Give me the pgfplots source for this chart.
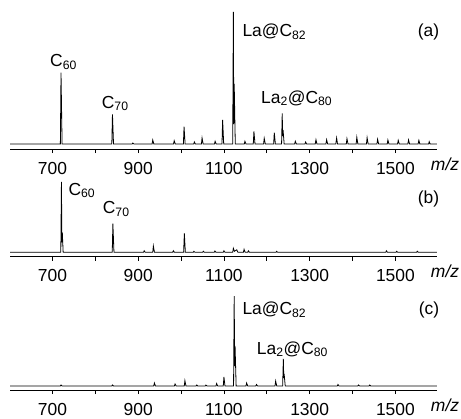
\documentclass[border=0pt]{standalone}
\usepackage{pgfplots}
\pgfplotsset{compat=1.18}
\usepackage{fontspec}
\setmainfont{Liberation Sans}

% peak heights are in pixel units above the baseline
\pgfplotsset{
  ms/.style={
    scale only axis,
    x=0.4287bp, y=1bp,
    xmin=601, xmax=1597,
    axis x line*=bottom,
    hide y axis,
    clip=false,
    axis line style={line width=1bp},
    xtick={700,800,...,1500},
    xticklabels={700,,900,,1100,,1300,,1500},
    tick align=outside,
    major tick length=4bp,
    xtick style={line width=0.8bp,black},
    xticklabel style={anchor=base, yshift=-21bp, font=\fontsize{17.5}{21}\selectfont},
  },
  spec/.style={black, line width=0.8bp, mark=none},
}
\tikzset{lab/.style={font=\fontsize{17.5}{21}\selectfont, inner sep=0pt}}

\begin{document}
\begin{tikzpicture}
\path (-10bp,149bp) rectangle (451bp,-268bp);

% (a)
\begin{axis}[ms, at={(0,0)}, ymin=-5, ymax=144]
\addplot[spec] coordinates {
(601,0)
(718.5,0)(720,71.3)(722.5,0)
(838.5,0)(840,29.7)(842.5,0)
(886,0)(887.5,1)(890,0)
(932.5,0)(934,4)(936.5,0)
(982.5,0)(984,3.3)(986.5,0)
(1005.5,0)(1007,17.3)(1009.5,0)
(1029.5,0)(1031,2)(1033.5,0)
(1047.5,0)(1049,6)(1051.5,0)
(1078,0)(1079.5,2.7)(1082,0)
(1095.5,0)(1097,24)(1099.5,0)
(1120.5,0)(1122,132)(1123,20)(1124,60)(1126.5,0)
(1147.5,0)(1149,2.7)(1151.5,0)
(1168.5,0)(1170,12.7)(1172.5,0)
(1192.5,0)(1194,5.7)(1196.5,0)
(1216,0)(1217.5,11.3)(1220,0)
(1234.5,0)(1236,30.7)(1237,8)(1238,14)(1240.5,0)
(1265,0)(1266.5,2.7)(1269,0)
(1289,0)(1290.6,2)(1293,0)
(1313,0)(1314.7,4.3)(1317,0)
(1338,0)(1339.6,4.3)(1342,0)
(1361,0)(1362.9,6)(1365,0)
(1385.5,0)(1387,5.3)(1389.5,0)
(1408.5,0)(1410,6.7)(1412.5,0)
(1432.5,0)(1434,6.3)(1436.5,0)
(1457,0)(1458.4,4.7)(1461,0)
(1481,0)(1482.5,4)(1485,0)
(1505,0)(1506.6,3.7)(1509,0)
(1529,0)(1530.7,4)(1533,0)
(1553,0)(1554.8,3.7)(1557,0)
(1577.5,0)(1578.9,2.3)(1581,0)
(1597,0)
};
\node[lab, anchor=base west] at (axis cs:694.3,77.3) {C\textsubscript{60}};
\node[lab, anchor=base west] at (axis cs:814.9,35.7) {C\textsubscript{70}};
\node[lab, anchor=base west] at (axis cs:1142.9,107.3) {La@C\textsubscript{82}};
\node[lab, anchor=base west] at (axis cs:1186.5,40.7) {La\textsubscript{2}@C\textsubscript{80}};
\node[lab, anchor=base east] at (axis cs:1602.4,107.3) {(a)};
\node[lab, anchor=base east] at (axis cs:1649,-26) {\textit{m/z}};
\end{axis}

% (b)
\begin{axis}[ms, at={(0,-107.5bp)}, ymin=-4.2, ymax=90]
\addplot[spec] coordinates {
(601,0)
(719.5,0)(721,70.3)(722,10)(723,20)(725,0)
(839.5,0)(841,28.7)(843.5,0)
(912.5,0)(914,1.5)(916.5,0)
(934,0)(935.4,6.3)(938,0)
(980.5,0)(982,1.5)(984.5,0)
(1006,0)(1007.7,19)(1010,0)
(1028.5,0)(1030,1)(1032.5,0)
(1050.5,0)(1052,1)(1054.5,0)
(1077.5,0)(1079,1.3)(1081.5,0)
(1098.5,0)(1100,1.5)(1102.5,0)
(1120.5,0)(1122,4)(1124.5,1)(1130,2.5)(1132.5,0)
(1145.5,0)(1147,3)(1149.5,0)
(1155.5,0)(1157,1.5)(1159.5,0)
(1221.5,0)(1223,1)(1225.5,0)
(1477.5,0)(1479,1.5)(1481.5,0)
(1501.5,0)(1503,1)(1505.5,0)
(1549.5,0)(1551,1)(1553.5,0)
(1597,0)
};
\node[lab, anchor=base west] at (axis cs:737,57) {C\textsubscript{60}};
\node[lab, anchor=base west] at (axis cs:817.2,38.7) {C\textsubscript{70}};
\node[lab, anchor=base east] at (axis cs:1602.4,49.3) {(b)};
\node[lab, anchor=base east] at (axis cs:1649,-25.2) {\textit{m/z}};
\end{axis}

% (c)
\begin{axis}[ms, at={(0,-241bp)}, ymin=-4, ymax=100]
\addplot[spec] coordinates {
(601,0)
(718.5,0)(720,1)(722.5,0)
(838.5,0)(840,1)(842.5,0)
(936.3,0)(937.8,3)(940.3,0)
(984.5,0)(986,2)(988.5,0)
(1007.5,0)(1009,5.3)(1011.5,0)
(1035,0)(1036.6,1)(1039,0)
(1056.5,0)(1058,1)(1060.5,0)
(1081.5,0)(1083,2.5)(1085.5,0)
(1098.5,0)(1100,9)(1102.5,0)
(1122.5,0)(1124,90)(1125,20)(1126,40)(1128.5,0)
(1151.5,0)(1153,3)(1155.5,0)
(1174.5,0)(1176,1.5)(1178.5,0)
(1219.2,0)(1220.7,5)(1223.2,0)
(1237,0)(1238.6,27)(1239.6,8)(1240.5,12)(1243,0)
(1364.5,0)(1366,1.5)(1368.5,0)
(1412.5,0)(1414,1)(1416.5,0)
(1438.5,0)(1440,1)(1442.5,0)
(1597,0)
};
\node[lab, anchor=base west] at (axis cs:1142.9,71.3) {La@C\textsubscript{82}};
\node[lab, anchor=base west] at (axis cs:1176.5,32) {La\textsubscript{2}@C\textsubscript{80}};
\node[lab, anchor=base east] at (axis cs:1602.4,71.3) {(c)};
\node[lab, anchor=base east] at (axis cs:1649,-25) {\textit{m/z}};
\end{axis}
\end{tikzpicture}
\end{document}
